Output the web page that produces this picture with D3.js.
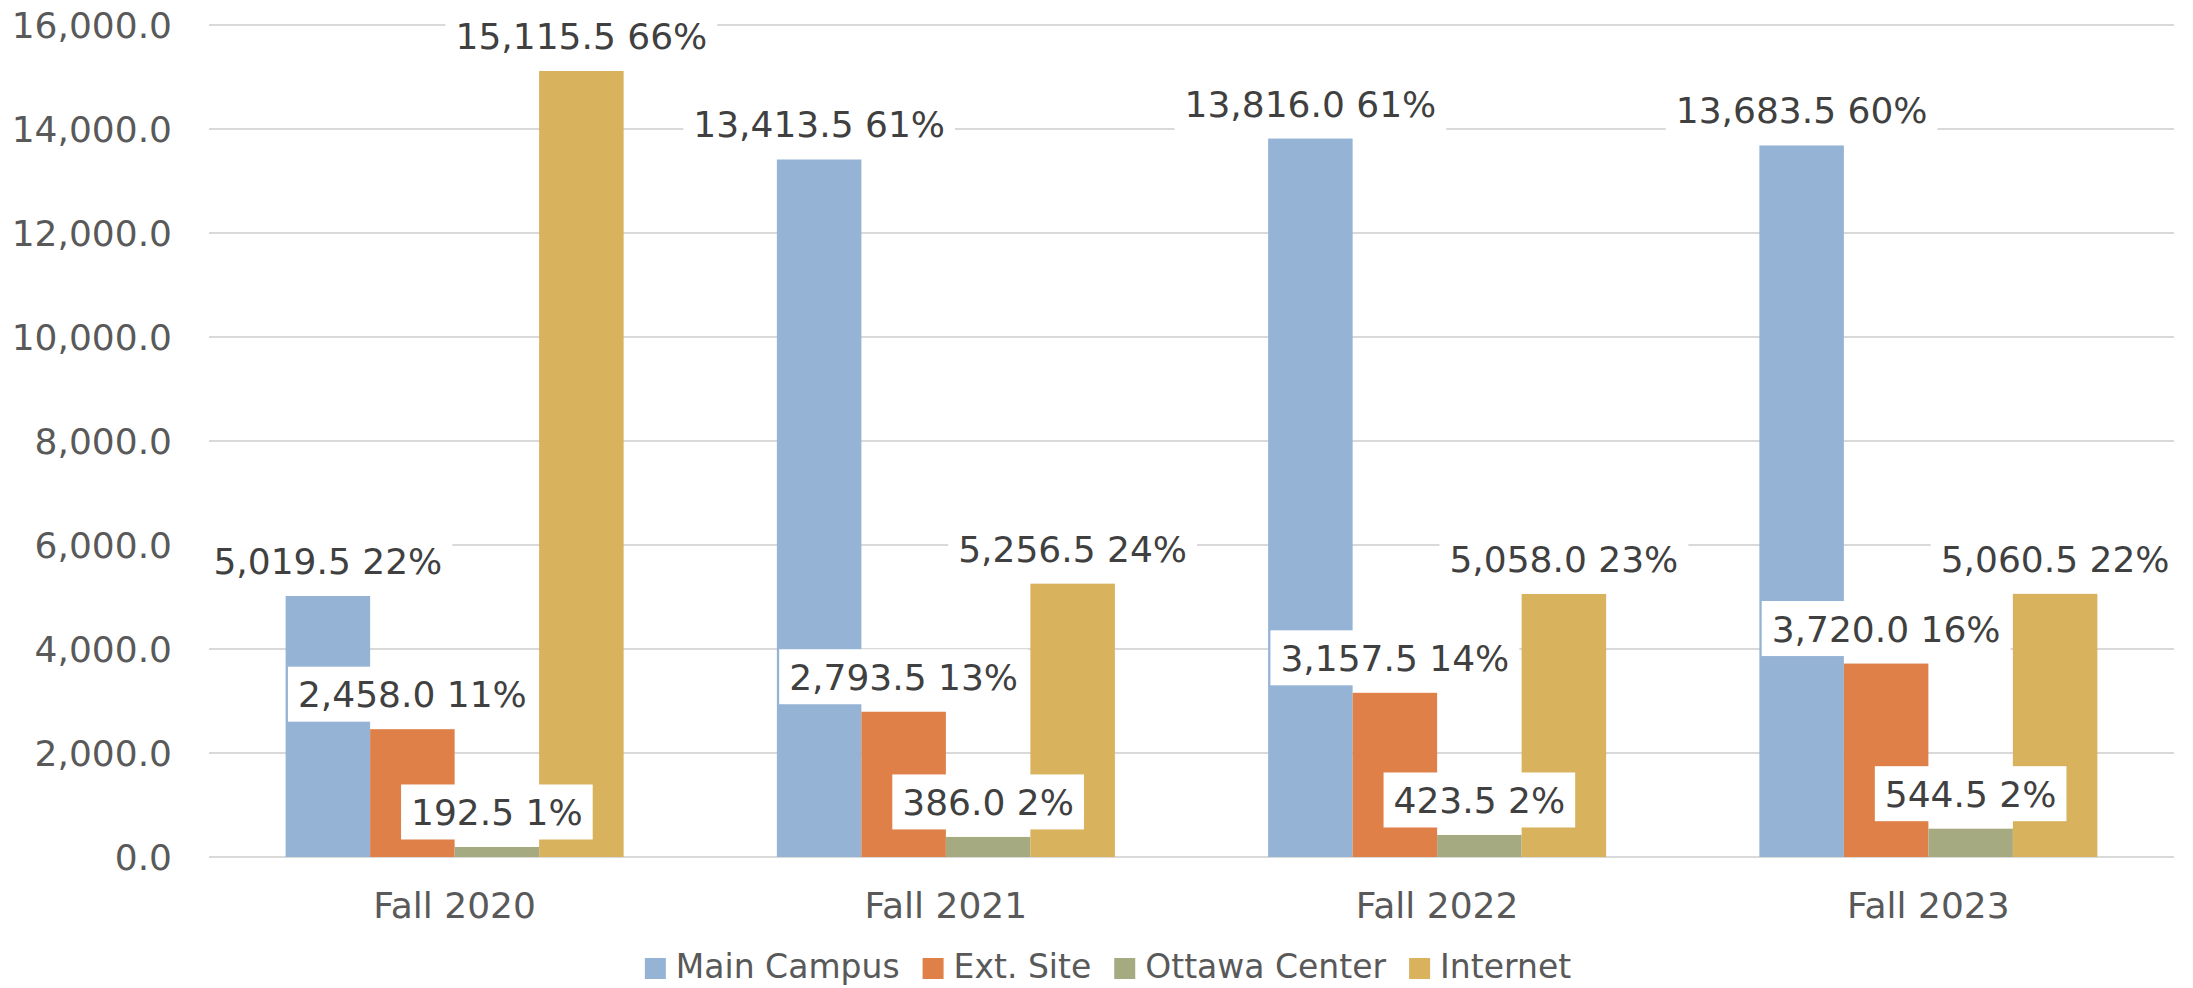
<!DOCTYPE html>
<html><head><meta charset="utf-8">
<script src="https://cdn.jsdelivr.net/npm/d3@7"></script>
<style>html,body{margin:0;padding:0;background:#fff;}svg{display:block;}</style>
</head><body>
<script>
const categories = ["Fall 2020", "Fall 2021", "Fall 2022", "Fall 2023"];
const seriesNames = ["Main Campus", "Ext. Site", "Ottawa Center", "Internet"];
const mainCampus = [5019.5, 13413.5, 13816.0, 13683.5];
const extSite = [2458.0, 2793.5, 3157.5, 3720.0];
const ottawaCenter = [192.5, 386.0, 423.5, 544.5];
const internet = [15115.5, 5256.5, 5058.0, 5060.5];
const mainCampusPct = [22, 61, 61, 60];
const extSitePct = [11, 13, 14, 16];
const ottawaCenterPct = [1, 2, 2, 2];
const internetPct = [66, 24, 23, 22];
const yTicks = [0, 2000, 4000, 6000, 8000, 10000, 12000, 14000, 16000];
const colors = ["#95B3D5", "#DE8048", "#A5AA81", "#D8B25C"];

const values = [mainCampus, extSite, ottawaCenter, internet];
const pcts = [mainCampusPct, extSitePct, ottawaCenterPct, internetPct];

const W = 2193, H = 988;
const FONT = "'DejaVu Sans', sans-serif";
const svg = d3.select("body").append("svg").attr("width", W).attr("height", H);

const x0 = d3.scaleBand().domain(categories).range([209, 2174]).paddingInner(0).paddingOuter(0);
const groupW = 338;
const x1 = d3.scaleBand().domain(seriesNames).range([0, groupW]).padding(0);
const y = d3.scaleLinear().domain([0, 16000]).range([857, 25]);

// gridlines
svg.append("g").selectAll("line").data(yTicks).join("line")
  .attr("x1", 209).attr("x2", 2174)
  .attr("y1", d => y(d)).attr("y2", d => y(d))
  .attr("stroke", "#d9d9d9").attr("stroke-width", 2);

// y axis labels
const yAxis = d3.axisLeft(y).tickValues(yTicks).tickFormat(d3.format(",.1f")).tickSize(0).tickPadding(0);
const yg = svg.append("g").attr("transform", "translate(172,0)").call(yAxis);
yg.select(".domain").remove();
yg.selectAll("text").attr("font-family", FONT).attr("font-size", 36).attr("fill", "#595959")
  .attr("dy", "0.36em");

// x axis labels
const xAxis = d3.axisBottom(x0).tickSize(0).tickPadding(0);
const xg = svg.append("g").attr("transform", "translate(0,918)").call(xAxis);
xg.select(".domain").remove();
xg.selectAll("text").attr("font-family", FONT).attr("font-size", 36).attr("fill", "#595959").attr("dy", 0);

// bars
const data = [];
categories.forEach((c, ci) => {
  seriesNames.forEach((s, si) => {
    data.push({c, s, si, v: values[si][ci], p: pcts[si][ci]});
  });
});
const gx = c => x0(c) + (x0.bandwidth() - groupW) / 2;

svg.append("g").selectAll("rect").data(data).join("rect")
  .attr("x", d => gx(d.c) + x1(d.s))
  .attr("width", x1.bandwidth())
  .attr("y", d => y(d.v))
  .attr("height", d => y(0) - y(d.v))
  .attr("fill", d => colors[d.si]);

// labels
const fmt = d3.format(",.1f");
const lg = svg.append("g");
data.forEach(d => {
  const cx = gx(d.c) + x1(d.s) + x1.bandwidth() / 2;
  const cy = y(d.v) - 35;
  const g = lg.append("g");
  const rect = g.append("rect").attr("fill", "#fff");
  const t = g.append("text").attr("x", cx).attr("y", cy + 13)
    .attr("text-anchor", "middle").attr("font-family", FONT).attr("font-size", 36)
    .attr("fill", "#404040").text(fmt(d.v) + " " + d.p + "%");
  const w = t.node().getComputedTextLength();
  rect.attr("x", cx - w / 2 - 10).attr("width", w + 20).attr("y", cy - 27.5).attr("height", 55);
});

// legend
const leg = svg.append("g");
let lx = 0;
const items = [];
seriesNames.forEach((s, i) => {
  const g = leg.append("g");
  g.append("rect").attr("x", lx).attr("y", 958).attr("width", 21).attr("height", 21).attr("fill", colors[i]);
  const t = g.append("text").attr("x", lx + 31).attr("y", 978).attr("font-family", FONT)
    .attr("font-size", 33).attr("fill", "#595959").text(s);
  const w = t.node().getComputedTextLength();
  lx += 31 + w + 23;
});
const totalW = lx - 23;
leg.attr("transform", `translate(${1108 - totalW / 2},0)`);
</script>
</body></html>
